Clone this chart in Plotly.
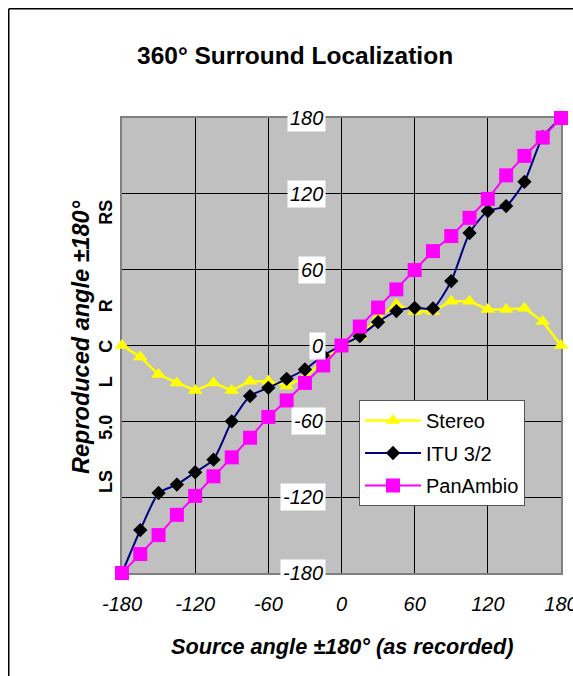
import plotly.graph_objects as go

# ---------------- data ----------------
source_angles = [-180, -165, -150, -135, -120, -105, -90, -75, -60, -45, -30, -15, 0,
                 15, 30, 45, 60, 75, 90, 105, 120, 135, 150, 165, 180]
stereo = [0, -9, -23, -29.6, -35.6, -29.6, -35.6, -28.3, -28.3, -32, -25, -12, 0,
          7, 22, 32.5, 27, 27, 35, 35, 28.5, 28.5, 29.5, 19, 0]
itu = [-180, -146, -116.7, -110, -100.3, -90.3, -60, -40, -33.5, -26.4, -19, -8, 0,
       7.4, 18.5, 27.2, 29.8, 29.3, 51, 89, 106.4, 110.3, 129.5, 165, 180]
panambio = [-180, -165, -150, -134, -119, -103.5, -88.5, -73, -56.5, -43.5, -29.6, -15.8, 0,
            15, 30, 44.4, 59.7, 74.7, 86.6, 101, 116, 134.6, 150, 164.5, 180]

tick_vals = [-180, -120, -60, 0, 60, 120, 180]
tick_text = ["-180", "-120", "-60", "0", "60", "120", "180"]

speaker_labels = ["RS", "R", "C", "L", "5.0", "LS"]
speaker_pos = [105, 31, -1, -29, -65, -108]

FONT = "Liberation Sans, Arial, sans-serif"

# page margin is removed in post_script, so figure px == window px
W, H = 573, 676
L, T = 122, 118
PR, PB = 561, 573   # plot right / bottom edge
R, B = W - PR, H - PB
PW, PH = W - L - R, H - T - B


def px_x(x):
    return (x - L) / PW


def px_y(y):
    return (H - B - y) / PH


fig = go.Figure()
fig.add_trace(go.Scatter(
    x=source_angles, y=stereo, name="Stereo", mode="lines+markers",
    line=dict(color="#FFFF00", width=2.5),
    marker=dict(symbol="triangle-up", size=13, color="#FFFF00"),
    cliponaxis=False, legendgroup="a"))
fig.add_trace(go.Scatter(
    x=source_angles, y=itu, name="ITU 3/2", mode="lines+markers",
    line=dict(color="#000080", width=2, shape="spline", smoothing=0.6),
    marker=dict(symbol="diamond", size=11, color="#000000"),
    cliponaxis=False, legendgroup="b"))
fig.add_trace(go.Scatter(
    x=source_angles, y=panambio, name="PanAmbio", mode="lines+markers",
    line=dict(color="#FF00FF", width=2),
    marker=dict(symbol="square", size=14, color="#FF00FF"),
    cliponaxis=False, legendgroup="c"))

fig.update_layout(
    width=W, height=H,
    margin=dict(l=L, r=R, t=T, b=B, autoexpand=False),
    paper_bgcolor="white", plot_bgcolor="#C0C0C0",
    font=dict(family=FONT, color="black"),
    showlegend=True,
    legend=dict(x=px_x(359), y=px_y(400), xanchor="left", yanchor="top",
                bgcolor="white", bordercolor="#555555", borderwidth=1,
                font=dict(size=20, family=FONT), tracegroupgap=3.5,
                itemwidth=56),
    xaxis=dict(range=[-180, 180], tickvals=tick_vals, ticktext=tick_text,
               showgrid=True, gridcolor="black", gridwidth=1, zeroline=False,
               showline=True, mirror=True, linecolor="#808080", linewidth=2,
               ticks="", ticklabelstandoff=12, layer="below traces",
               ticklabeloverflow="allow", automargin=False,
               tickfont=dict(size=20, style="italic", family=FONT)),
    yaxis=dict(range=[-180, 180], tickvals=tick_vals,
               showgrid=True, gridcolor="black", gridwidth=1, zeroline=False,
               showline=True, mirror=True, linecolor="#808080", linewidth=2,
               ticks="", showticklabels=False, layer="below traces",
               automargin=False),
    yaxis2=dict(range=[-180, 180], tickvals=tick_vals, overlaying="y",
                anchor="free", position=0.5, side="left",
                showgrid=False, zeroline=False, showline=False,
                ticks="outside", ticklen=7, tickcolor="black", tickwidth=1,
                showticklabels=False, automargin=False),
)

annotations = []
annotations.append(dict(text="<b>360° Surround Localization</b>", x=px_x(295),
                        y=px_y(55), xref="paper", yref="paper",
                        showarrow=False, font=dict(size=24.5, family=FONT),
                        xanchor="center", yanchor="middle"))
annotations.append(dict(text="<b><i>Source angle ±180° (as recorded)</i></b>",
                        x=0, xref="x", y=px_y(646), yref="paper",
                        showarrow=False, font=dict(size=21.7, family=FONT),
                        xanchor="center", yanchor="middle"))
annotations.append(dict(text="<b><i>Reproduced angle ±180°</i></b>", textangle=-90,
                        x=px_x(81), xref="paper", y=px_y(337), yref="paper",
                        showarrow=False, font=dict(size=23.5, family=FONT),
                        xanchor="center", yanchor="middle"))
for lab, pos in zip(speaker_labels, speaker_pos):
    annotations.append(dict(text="<b>" + lab + "</b>", textangle=-90,
                            x=px_x(106), xref="paper", y=pos, yref="y",
                            showarrow=False, font=dict(size=18, family=FONT),
                            xanchor="center", yanchor="middle"))
for v, t in zip(tick_vals, tick_text):
    annotations.append(dict(text="<i>" + t + "</i>", x=0, xref="x", y=v, yref="y",
                            showarrow=False, xanchor="right", yanchor="middle",
                            xshift=-16, bgcolor="white", borderpad=2,
                            font=dict(size=20, family=FONT)))
fig.update_layout(annotations=annotations)

# outer chart frame (left and top edges visible)
fx = px_x(8.75)
fy = px_y(8.75)
fig.add_shape(type="line", xref="paper", yref="paper", x0=fx, x1=fx, y0=-0.5, y1=fy,
              line=dict(color="black", width=1.5))
fig.add_shape(type="line", xref="paper", yref="paper", x0=fx, x1=1.2, y0=fy, y1=fy,
              line=dict(color="black", width=1.5))

fig.write_html(
    "out.html",
    config={"displayModeBar": False},
    post_script=("document.documentElement.style.overflow='hidden';"
                 "document.body.style.overflow='hidden';"
                 "document.body.style.margin='0';"))
